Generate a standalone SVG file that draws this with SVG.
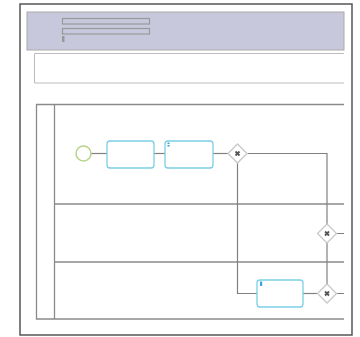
<svg xmlns="http://www.w3.org/2000/svg" width="360" height="337" viewBox="0 0 360 337">
<style>
.frame{fill:#fff;stroke:#555;stroke-width:1.5}
.band{fill:#c8c8dc;stroke:#aaa;stroke-width:1}
.bar{fill:#c8c8dc;stroke:#999;stroke-width:1.2}
.box{fill:#fff;stroke:#bbb;stroke-width:1}
.lane{fill:none;stroke:#8a8a8a;stroke-width:1.3}
.task{fill:#fff;stroke:#7ccfe6;stroke-width:1.3}
.start{fill:#fff;stroke:#b8d48a;stroke-width:1.5}
.gw{fill:#fff;stroke:#c8c8c8;stroke-width:1.3}
.gx{stroke:#555;stroke-width:1.8}
.flow{fill:none;stroke:#808080;stroke-width:1.2}
.mk{fill:#3aa6d4}
</style>
<rect class="frame" x="20" y="4" width="332" height="331"/>
<rect class="band" x="27" y="12" width="317" height="38"/>
<rect class="bar" x="62.5" y="18.5" width="87" height="5.5"/>
<rect class="bar" x="62.5" y="28.5" width="87" height="5.5"/>
<rect x="62" y="36" width="2.5" height="6" fill="#999"/>
<path class="box" d="M344 53.5H34.5V83H344"/>
<g id="pool">
<path class="lane" d="M344 104.5H36.5V319H344"/>
<path class="lane" d="M54.5 104.5V319"/>
<path class="lane" d="M54.5 204H344M54.5 262H344"/>
</g>
<g id="connectors">
<path class="flow" d="M91 153.5H107"/>
<path class="flow" d="M154 153.5H165"/>
<path class="flow" d="M213 153.5H228"/>
<path class="flow" d="M247.5 153.5H327V224"/>
<path class="flow" d="M237.5 163V293.5H257"/>
<path class="flow" d="M303 293.5H317"/>
<path class="flow" d="M327 243V284"/>
<path class="flow" d="M336.5 233.5H344M336.5 293.5H344"/>
</g>
<g id="start"><circle class="start" cx="83.5" cy="153.5" r="7.5"/></g>
<g id="task1"><rect class="task" x="107" y="141" width="47" height="27" rx="3"/></g>
<g id="task2"><rect class="task" x="165" y="141" width="48" height="27" rx="3"/><rect class="mk" x="167.5" y="142.5" width="2" height="1.6"/><rect class="mk" x="167.5" y="145" width="2" height="1.6"/></g>
<g id="gateway1"><path class="gw" d="M237.5 144L247 153.5L237.5 163L228 153.5Z"/><path class="gx" d="M235.5 151.5L239.5 155.5M239.5 151.5L235.5 155.5"/></g>
<g id="gateway2"><path class="gw" d="M327 224L336.5 233.5L327 243L317.5 233.5Z"/><path class="gx" d="M325 231.5L329 235.5M329 231.5L325 235.5"/></g>
<g id="gateway3"><path class="gw" d="M327 284L336.5 293.5L327 303L317.5 293.5Z"/><path class="gx" d="M325 291.5L329 295.5M329 291.5L325 295.5"/></g>
<g id="task3"><rect class="task" x="257" y="280" width="46" height="27" rx="3"/><rect class="mk" x="260" y="281.5" width="2.2" height="4.5"/></g>
</svg>
